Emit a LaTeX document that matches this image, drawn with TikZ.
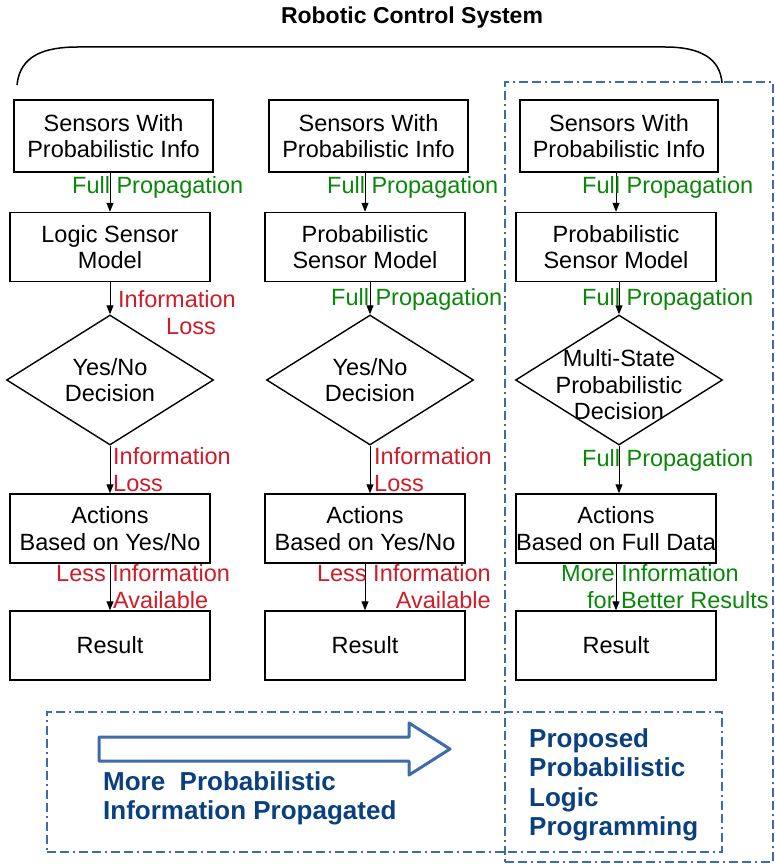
\documentclass[tikz,border=0pt]{standalone}
\usepackage{fontspec}
\setmainfont{Liberation Sans}
\usetikzlibrary{arrows.meta,shapes.geometric}
\definecolor{pgreen}{RGB}{10,135,10}
\definecolor{pred}{RGB}{206,28,40}
\definecolor{fblue}{RGB}{62,106,174}
\definecolor{tblue}{RGB}{10,64,128}
\newcommand{\boxfont}{\fontsize{23.5}{26.5}\selectfont}
\newcommand{\bluefont}{\fontsize{26}{29.5}\selectfont\bfseries}
\tikzset{
  stepbox/.style={draw, line width=1.4pt, minimum width=200pt, minimum height=69pt, inner sep=0pt, align=center, font=\boxfont},
  dia/.style={draw, diamond, line width=1.4pt, minimum width=207pt, minimum height=130pt, inner sep=0pt},
  diatext/.style={align=center, font=\boxfont, inner sep=0pt},
  glbl/.style={text=pgreen, font=\boxfont, inner sep=0pt},
  rlbl/.style={text=pred, font=\boxfont, inner sep=0pt},
  arr/.style={line width=1pt, -{Triangle[length=9pt,width=7pt]}},
  frame/.style={draw=fblue, line width=2.4pt, dash pattern=on 9pt off 4pt on 9pt off 4pt on 2pt off 4pt},
  bigarrow/.style={draw=fblue, line width=3pt, line join=round}
}
\begin{document}
\begin{tikzpicture}[x=1pt,y=-1pt]
\useasboundingbox (0,0) rectangle (775,866);
% title and brace
\node[font=\fontsize{23}{26}\selectfont\bfseries, inner sep=0pt] (title) at (412,18) {Robotic Control System};
\draw[line width=1.5pt] (17,85) .. controls (20,55) and (45,47) .. (78,47) -- (665,47) .. controls (700,47) and (720,58) .. (722,83);
% frames
\node[frame, minimum width=268pt, minimum height=780pt, inner sep=0pt] (bigframe) at (639,472) {};
\node[frame, minimum width=675pt, minimum height=140pt, inner sep=0pt] (botframe) at (384.5,782) {};
% column 1
\node[stepbox, minimum width=199pt, minimum height=72pt] (s1) at (113.5,136) {Sensors With\\Probabilistic Info};
\node[stepbox] (m1) at (110,247) {Logic Sensor\\Model};
\node[dia] (d1) at (110,380) {};
\node[diatext] (d1t) at (d1) {Yes/No\\Decision};
\node[stepbox] (a1) at (110,528.5) {Actions\\Based on Yes/No};
\node[stepbox] (r1) at (110,645.5) {Result};
% column 2
\node[stepbox, minimum width=199pt, minimum height=72pt] (s2) at (368.5,136) {Sensors With\\Probabilistic Info};
\node[stepbox] (m2) at (365,247) {Probabilistic\\Sensor Model};
\node[dia] (d2) at (370,380) {};
\node[diatext] (d2t) at (d2) {Yes/No\\Decision};
\node[stepbox] (a2) at (365,528.5) {Actions\\Based on Yes/No};
\node[stepbox] (r2) at (365,645.5) {Result};
% column 3
\node[stepbox, minimum width=198pt, minimum height=72pt] (s3) at (619,136) {Sensors With\\Probabilistic Info};
\node[stepbox] (m3) at (616,247) {Probabilistic\\Sensor Model};
\node[dia] (d3) at (619,380) {};
\node[diatext] (d3t) at (619,385) {Multi-State\\Probabilistic\\Decision};
\node[stepbox] (a3) at (616,528.5) {Actions\\Based on Full Data};
\node[stepbox] (r3) at (616,645.5) {Result};
% arrows
\foreach \c in {1,2,3}{
  \draw[arr] (s\c.south -| m\c.north) -- (m\c.north);
  \draw[arr] (m\c.south -| d\c.north) -- (d\c.north);
  \draw[arr] (d\c.south) -- (d\c.south |- a\c.north);
  \draw[arr] (a\c.south -| r\c.north) -- (r\c.north);
}
% labels column 1
\node[glbl, anchor=west] (l11) at (72,187) {Full Propagation};
\node[rlbl, anchor=west, align=left] (l12) at (118,312.5) {Information\\\hspace*{48pt}Loss};
\node[rlbl, anchor=west, align=left] (l13) at (113,469.5) {Information\\Loss};
\node[rlbl, anchor=west, align=left] (l14) at (56,586.5) {Less Information\\\hspace*{57pt}Available};
% labels column 2
\node[glbl, anchor=west] (l21) at (327,187) {Full Propagation};
\node[glbl, anchor=west] (l22) at (331,299) {Full Propagation};
\node[rlbl, anchor=west, align=left] (l23) at (374,469.5) {Information\\Loss};
\node[rlbl, anchor=east, align=right] (l24) at (491,586.5) {Less Information\\Available};
% labels column 3
\node[glbl, anchor=west] (l31) at (582,187) {Full Propagation};
\node[glbl, anchor=west] (l32) at (582,299) {Full Propagation};
\node[glbl, anchor=west] (l33) at (582,460) {Full Propagation};
\node[glbl, anchor=west, align=left] (l34) at (561,586.5) {More Information\\\hspace*{26pt}for Better Results};
% bottom
\draw[bigarrow] (99,737) -- (409,737) -- (409,723) -- (450,749) -- (409,775) -- (409,761) -- (99,761) -- cycle;
\node[text=tblue, font=\bluefont, align=left, anchor=west, inner sep=0pt] (moreinfo) at (103,798.5) {More \ Probabilistic\\Information Propagated};
\node[text=tblue, font=\bluefont, align=left, anchor=west, inner sep=0pt] (proposed) at (529,785) {Proposed\\Probabilistic\\Logic\\Programming};
\end{tikzpicture}
\end{document}
